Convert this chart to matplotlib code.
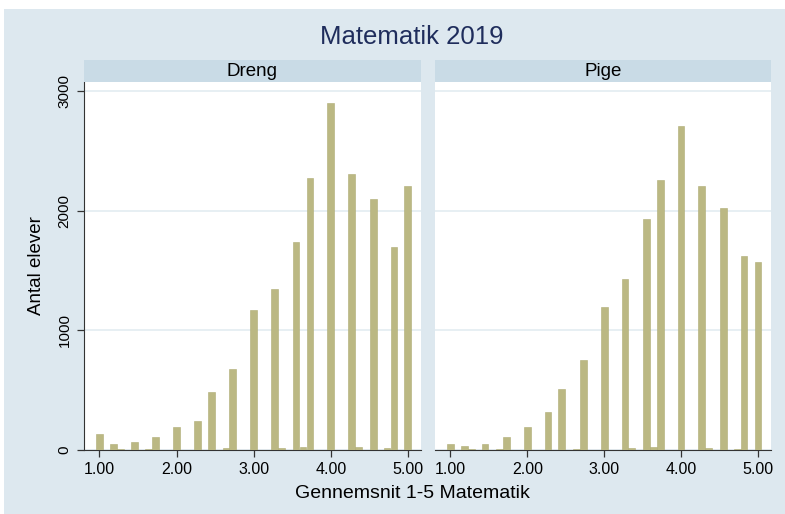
import matplotlib
matplotlib.use("Agg")
import matplotlib.pyplot as plt
from matplotlib.patches import Rectangle

# bin midpoints of the histogram (average grade)
bins = [1.00, 1.18, 1.27, 1.45, 1.64, 1.73, 2.00, 2.27, 2.45, 2.64, 2.73, 3.00,
        3.27, 3.36, 3.55, 3.64, 3.73, 4.00, 4.27, 4.36, 4.55, 4.73, 4.82, 5.00]

dreng = [131, 47, 6, 64, 6, 106, 189, 239, 481, 17, 675, 1167,
         1347, 14, 1739, 28, 2272, 2897, 2308, 22, 2097, 17, 1694, 2206]

pige = [50, 33, 5, 50, 5, 106, 194, 314, 510, 8, 756, 1197,
        1431, 13, 1928, 28, 2256, 2706, 2206, 15, 2025, 8, 1619, 1567]

panels = ["Dreng", "Pige"]
xticks = [1, 2, 3, 4, 5]
yticks = [0, 1000, 2000, 3000]

bg = "#dde8ef"
strip_col = "#c9dbe6"
bar_col = "#bbb883"
grid_col = "#e3ecf1"
navy = "#1f2d5c"

plt.rcParams["font.family"] = ["Liberation Sans", "DejaVu Sans"]

W, H = 785, 514
fig = plt.figure(figsize=(W / 100, H / 100), dpi=100, facecolor=bg)

# white margin at top and left of the original screenshot
fig.patches.append(Rectangle((0, 1 - 9 / H), 1, 9 / H, transform=fig.transFigure,
                             facecolor="white", edgecolor="none", zorder=0))
fig.patches.append(Rectangle((0, 0), 4 / W, 1, transform=fig.transFigure,
                             facecolor="white", edgecolor="none", zorder=0))


def px_axes(x0, y0, x1, y1):
    return fig.add_axes([x0 / W, 1 - y1 / H, (x1 - x0) / W, (y1 - y0) / H])


boxes = [(84, 421), (435, 771)]
data = [dreng, pige]

for i, (name, (x0, x1), vals) in enumerate(zip(panels, boxes, data)):
    ax = px_axes(x0, 82, x1, 450)
    ax.set_facecolor("white")
    ax.bar(bins, vals, width=0.088, color=bar_col, edgecolor="#aeab74",
           linewidth=0.4, zorder=3)
    ax.set_xlim(0.8, 5.17)
    ax.set_ylim(0, 3075)
    ax.set_yticks(yticks)
    ax.set_xticks(xticks)
    ax.set_xticklabels([f"{t:.2f}" for t in xticks], fontsize=11.5)
    ax.grid(axis="y", color=grid_col, linewidth=1.2, zorder=0)
    ax.tick_params(axis="both", color="#333333", length=5, width=0.9,
                   labelcolor="black", pad=4)
    for s in ["top", "right"]:
        ax.spines[s].set_visible(False)
    ax.spines["bottom"].set_color("#333333")
    ax.spines["left"].set_color("#333333")
    if i == 0:
        ax.set_yticklabels([str(t) for t in yticks], rotation=90, va="center",
                           fontsize=11)
        ax.set_ylabel("Antal elever", fontsize=13.5, labelpad=9)
    else:
        ax.spines["left"].set_visible(False)
        ax.tick_params(axis="y", left=False, labelleft=False)

    st = px_axes(x0, 60, x1, 82)
    st.set_facecolor(strip_col)
    st.set_xticks([])
    st.set_yticks([])
    for s in st.spines.values():
        s.set_visible(False)
    st.text(0.5, 0.5, name, ha="center", va="center", fontsize=13.5,
            transform=st.transAxes)

fig.text(412 / W, 1 - 37 / H, "Matematik 2019", ha="center",
         va="center", fontsize=18.5, color=navy)
fig.text(412 / W, 1 - 493 / H, "Gennemsnit 1-5 Matematik",
         ha="center", va="center", fontsize=14)

fig.savefig("out.png", dpi=100, facecolor=bg)
